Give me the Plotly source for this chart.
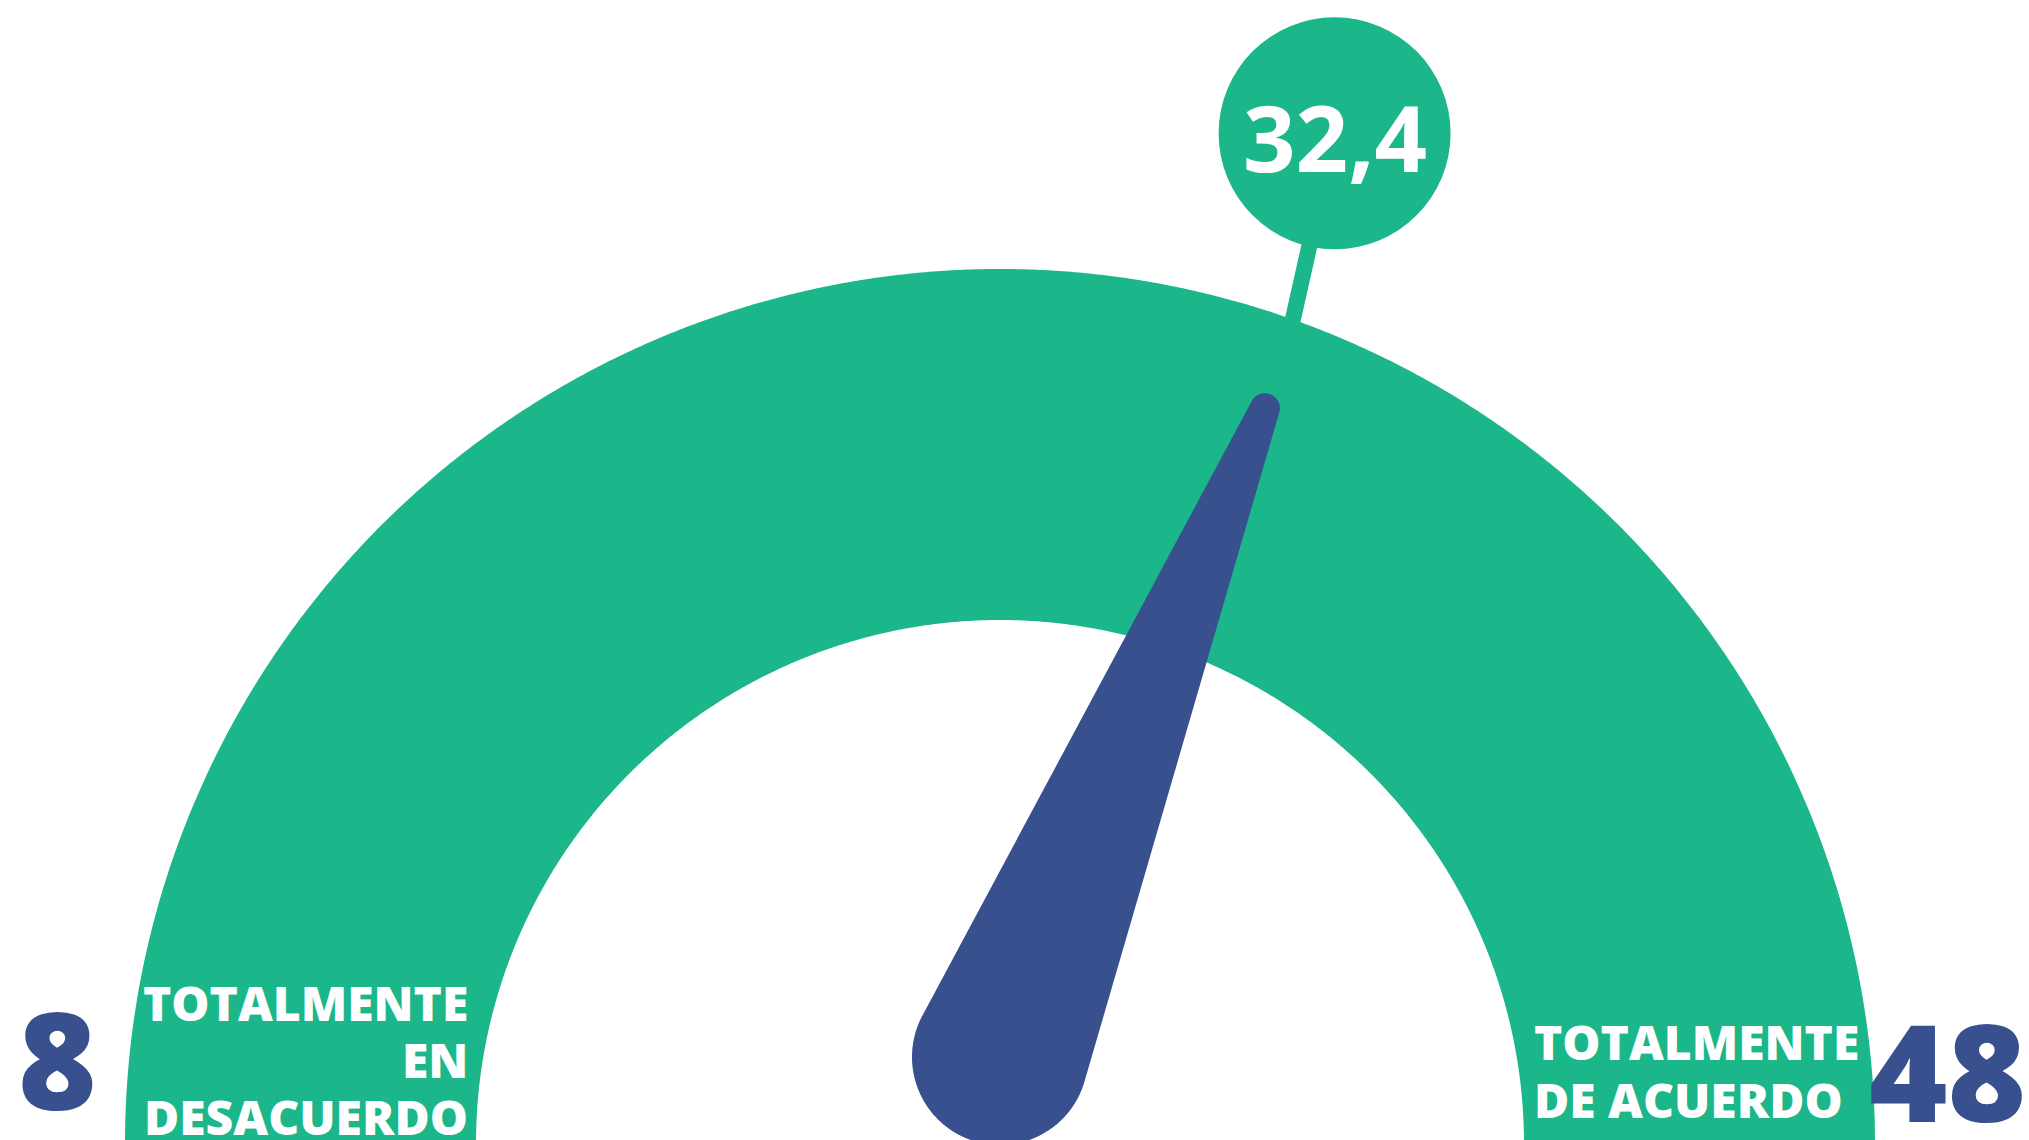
import numpy as np
import plotly.graph_objects as go

# Gauge scale and reading
gauge_min = 8
gauge_max = 48
score = 32.4
left_label = ["TOTALMENTE", "EN", "DESACUERDO"]
right_label = ["TOTALMENTE", "DE ACUERDO"]

GREEN = "#1bb68a"
NAVY = "#39508f"
WHITE = "#ffffff"
FONT = "Open Sans"

W, H = 2029, 1140
cx, cy = 1000.0, 1144.0          # centre of the dial band
r_out, r_in = 875.0, 524.0        # band radii
pivot = np.array([1000.0, 1057.0])  # needle hub
hub_r, tip_r = 88.0, 15.0
needle_len = 767.0
bubble_r = 116.0
leader_len = 194.0
leader_tilt = np.radians(15.0)


def angle_of(v):
    """Angle (radians, counter-clockwise from +x) for a gauge value."""
    return np.pi * (1 - (v - gauge_min) / (gauge_max - gauge_min))


def polar(r, a, ox=cx, oy=cy):
    # screen y grows downward
    return ox + r * np.cos(a), oy - r * np.sin(a)


fig = go.Figure()

# Dial band
t = np.linspace(np.pi, 0, 720)
bx_out, by_out = polar(r_out, t)
bx_in, by_in = polar(r_in, t[::-1])
fig.add_trace(go.Scatter(
    x=np.concatenate([bx_out, bx_in]), y=np.concatenate([by_out, by_in]),
    fill="toself", fillcolor=GREEN, mode="lines",
    line=dict(width=0, simplify=False),
    hoverinfo="skip", showlegend=False))

# Needle: hull of the hub circle and the rounded tip
a = angle_of(score)
tip = np.array(polar(needle_len + 15, a))
d_vec = tip - pivot
d = np.hypot(*d_vec)
phi = np.arctan2(d_vec[1], d_vec[0])
alpha = np.arccos((hub_r - tip_r) / d)
tip_arc = np.linspace(phi - alpha, phi + alpha, 80)
hub_arc = np.linspace(phi + alpha, phi - alpha + 2 * np.pi, 300)
nx = np.concatenate([tip[0] + tip_r * np.cos(tip_arc), pivot[0] + hub_r * np.cos(hub_arc)])
ny = np.concatenate([tip[1] + tip_r * np.sin(tip_arc), pivot[1] + hub_r * np.sin(hub_arc)])
fig.add_trace(go.Scatter(
    x=nx, y=ny, fill="toself", fillcolor=NAVY, mode="lines",
    line=dict(width=0, simplify=False),
    hoverinfo="skip", showlegend=False))

# Value bubble with its leader
ax0, ay0 = polar(r_out - 30, a)
ax1, ay1 = polar(r_out, a)
bcx = ax1 + leader_len * np.sin(leader_tilt) - 12
bcy = ay1 - leader_len * np.cos(leader_tilt)
shapes = [
    dict(type="line", xref="x", yref="y", x0=ax0, y0=ay0, x1=bcx, y1=bcy,
         line=dict(color=GREEN, width=16), layer="above"),
    dict(type="circle", xref="x", yref="y",
         x0=bcx - bubble_r, x1=bcx + bubble_r, y0=bcy - bubble_r, y1=bcy + bubble_r,
         fillcolor=GREEN, line=dict(width=0), layer="above"),
]

value_text = f"{score:.1f}".replace(".", ",")
annotations = [
    dict(x=bcx, y=bcy + 3, xref="x", yref="y", text=value_text, showarrow=False,
         font=dict(family=FONT, size=92, color=WHITE, weight=700),
         xanchor="center", yanchor="middle"),
    # scale end values
    dict(x=57, y=1058, xref="x", yref="y", text=str(gauge_min), showarrow=False,
         font=dict(family=FONT, size=134, color=NAVY, weight=800),
         xanchor="center", yanchor="middle"),
    dict(x=1947, y=1070, xref="x", yref="y", text=str(gauge_max), showarrow=False,
         font=dict(family=FONT, size=134, color=NAVY, weight=800),
         xanchor="center", yanchor="middle"),
]

# End labels inside the band, one line per annotation for tight leading
for i, line in enumerate(left_label):
    annotations.append(dict(
        x=470, y=1002 + 57 * i, xref="x", yref="y", text=line, showarrow=False,
        font=dict(family=FONT, size=48, color=WHITE, weight=800),
        xanchor="right", yanchor="middle"))
for i, line in enumerate(right_label):
    annotations.append(dict(
        x=1532, y=1041 + 58 * i, xref="x", yref="y", text=line, showarrow=False,
        font=dict(family=FONT, size=48, color=WHITE, weight=800),
        xanchor="left", yanchor="middle"))

fig.update_layout(
    width=W, height=H,
    margin=dict(l=0, r=0, t=0, b=0),
    paper_bgcolor="white", plot_bgcolor="white",
    xaxis=dict(range=[0, W], visible=False, fixedrange=True),
    yaxis=dict(range=[H, 0], visible=False, fixedrange=True),
    shapes=shapes, annotations=annotations,
    showlegend=False,
)

fig.write_html("out.html", config={"displayModeBar": False})
